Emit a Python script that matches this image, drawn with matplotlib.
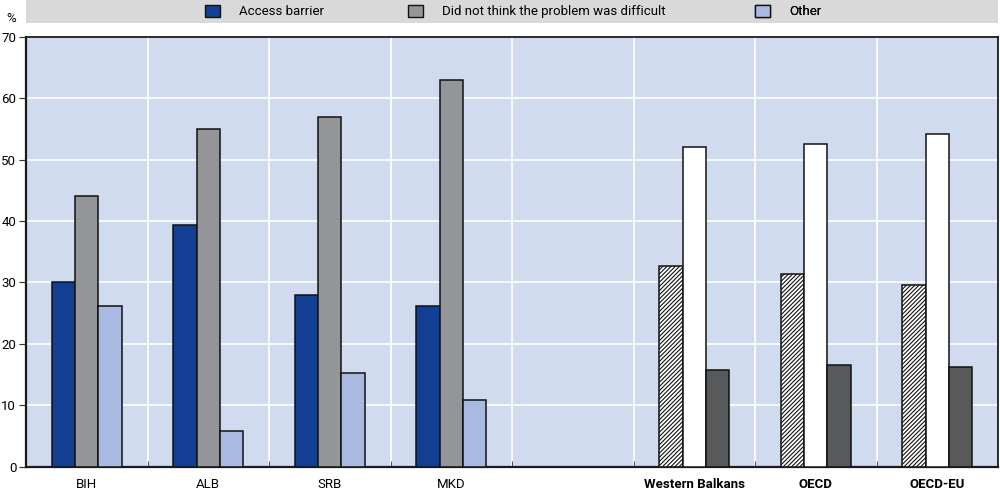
import matplotlib
matplotlib.use("Agg")
import matplotlib.pyplot as plt
import numpy as np
from matplotlib.patches import Patch

plt.rcParams['font.family'] = ['Roboto', 'DejaVu Sans']
plt.rcParams['hatch.linewidth'] = 0.8

categories = ["BIH", "ALB", "SRB", "MKD", "", "Western Balkans", "OECD", "OECD-EU"]
access = [30.1, 39.3, 27.9, 26.1, np.nan, 32.6, 31.3, 29.5]
not_difficult = [44.0, 54.9, 56.9, 62.9, np.nan, 52.0, 52.5, 54.2]
other = [26.1, 5.8, 15.2, 10.9, np.nan, 15.7, 16.5, 16.3]
series_names = ["Access barrier", "Did not think the problem was difficult", "Other"]
bold_cats = {"Western Balkans", "OECD", "OECD-EU"}
n_countries = 4

c_access = "#123f93"
c_grey = "#939598"
c_other = "#aab9e2"
c_dark = "#58595b"
bg = "#d0dbf0"

fig = plt.figure(figsize=(10, 4.91), dpi=100)
ax = fig.add_axes([0.026, 1 - 466.7 / 491, 0.972, (466.7 - 36.7) / 491])
ax.set_facecolor(bg)

x = np.arange(len(categories))
w = 0.193
ec = "#111111"
lw = 1.1
for i in range(len(categories)):
    if np.isnan(access[i]):
        continue
    if i < n_countries:
        ax.bar(x[i] - w, access[i], w, color=c_access, edgecolor=ec, linewidth=lw, zorder=3)
        ax.bar(x[i], not_difficult[i], w, color=c_grey, edgecolor=ec, linewidth=lw, zorder=3)
        ax.bar(x[i] + w, other[i], w, color=c_other, edgecolor=ec, linewidth=lw, zorder=3)
    else:
        ax.bar(x[i] - w, access[i], w, color="white", edgecolor=ec, hatch="////////", linewidth=lw, zorder=3)
        ax.bar(x[i], not_difficult[i], w, color="white", edgecolor=ec, linewidth=lw, zorder=3)
        ax.bar(x[i] + w, other[i], w, color=c_dark, edgecolor=ec, linewidth=lw, zorder=3)

ax.set_xlim(-0.5, len(categories) - 0.5)
ax.set_ylim(0, 70)
ax.set_yticks(np.arange(0, 71, 10))
ax.set_xticks(x)
ax.set_xticklabels(categories)
for lab in ax.get_xticklabels():
    if lab.get_text() in bold_cats:
        lab.set_fontweight("bold")
ax.set_xticks(np.arange(0.5, len(categories) - 0.5, 1), minor=True)
ax.tick_params(axis="x", which="major", length=0, pad=8, labelsize=9.5)
ax.tick_params(axis="x", which="minor", direction="in", length=4, color="#333333")
ax.tick_params(axis="y", length=5, labelsize=9.5, pad=2, color="#333333")
ax.grid(axis="y", color="white", linewidth=1.2, zorder=1)
ax.grid(axis="x", which="minor", color="white", linewidth=1.2, zorder=1)
ax.set_axisbelow(True)
for s in ax.spines.values():
    s.set_color("#1a1a1a")
    s.set_linewidth(1.3)
ax.spines["left"].set_linewidth(1.6)
ax.spines["bottom"].set_linewidth(1.6)

fig.text(0.006, 1 - 18 / 491, "%", fontsize=9.5, va="center", ha="left")

# legend strip
lax = fig.add_axes([0.026, 1 - 23 / 491, 0.972, 23 / 491])
lax.set_facecolor("#d9d9d9")
lax.set_xticks([]); lax.set_yticks([])
for s in lax.spines.values():
    s.set_visible(False)
handles = [Patch(facecolor=c_access, edgecolor=ec, linewidth=1),
           Patch(facecolor=c_grey, edgecolor=ec, linewidth=1),
           Patch(facecolor=c_other, edgecolor=ec, linewidth=1)]
starts_px = [205, 408, 755]
for h, name, sx in zip(handles, series_names, starts_px):
    leg = lax.legend([h], [name], loc="center left", frameon=False, fontsize=9.5,
                     handlelength=1.1, handleheight=1.1, handletextpad=1.5,
                     borderaxespad=0, borderpad=0,
                     bbox_to_anchor=((sx - 26) / 972, 0.5))
    lax.add_artist(leg)

fig.savefig("out.png", dpi=100)
